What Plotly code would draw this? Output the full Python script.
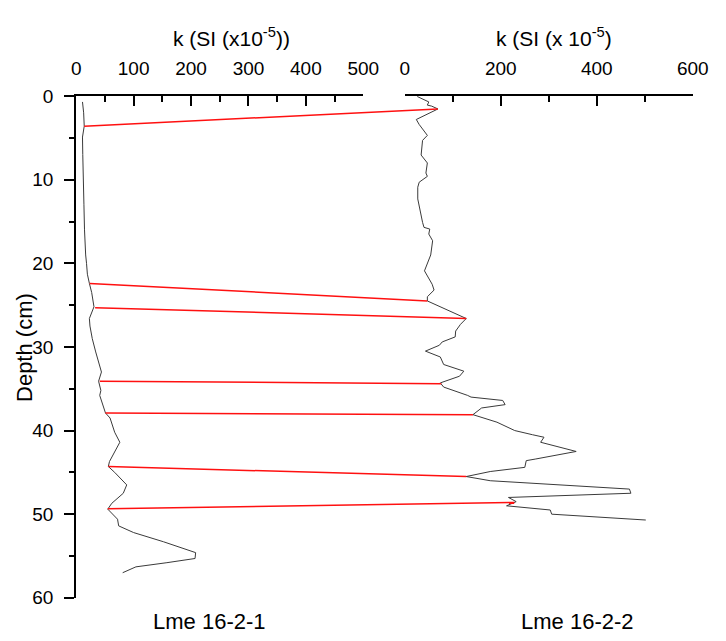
import plotly.graph_objects as go

# Core Lme 16-2-1: depth (cm) and magnetic susceptibility k (SI x10^-5)
depth_a = [0.7, 2.0, 3.6, 4.9, 7.0, 10.0, 13.0, 16.0, 17.5, 19.0, 20.0, 21.3, 22.4, 23.5,
           25.2, 26.6, 27.5, 29.0, 30.6, 31.8, 33.0, 34.1, 35.2, 35.8, 36.7, 37.9, 38.5,
           39.2, 40.2, 41.4, 42.6, 43.7, 44.3, 45.0, 46.5, 47.5, 48.7, 49.4, 50.6, 51.4,
           52.2, 53.3, 54.6, 55.3, 55.8, 56.3, 57.0]
k_a = [11, 13, 14, 11, 11.5, 12, 13.5, 14.5, 15, 16.5, 18, 19.5, 23, 27,
       31, 23, 24, 28, 34, 39, 44, 39, 43, 41, 45, 51, 59,
       62, 67, 76, 67, 58, 56, 67, 88, 82, 62, 55, 72, 74,
       100, 152, 208, 207, 158, 104, 81]

# Core Lme 16-2-2
depth_b = [0.05, 0.7, 1.08, 1.2, 1.54, 2.8, 3.4, 4.7, 5.3, 7.05, 8.0, 9.2, 9.6, 10.3,
           10.9, 12.3, 15.1, 15.7, 15.9, 16.5, 17.3, 19.0, 20.9, 21.9, 22.5, 23.2, 24.0,
           24.5, 26.6, 27.3, 28.1, 28.8, 29.4, 29.8, 30.5, 31.2, 32.1, 32.9, 33.5, 34.3,
           34.8, 35.8, 36.0, 36.4, 36.9, 37.3, 38.1, 39.0, 40.0, 40.5, 40.8, 41.4, 42.5,
           43.4, 43.6, 44.4, 44.9, 45.5, 46.0, 47.0, 47.5, 48.0, 48.5, 49.0, 49.5, 50.0,
           50.7]
k_b = [26, 50, 47, 56, 69, 24, 30, 47, 37, 34, 47, 44, 47, 30,
       27, 27, 37, 40, 52, 50, 58, 54, 41, 50, 57, 61, 47,
       47, 128, 116, 106, 105, 78, 72, 43, 74, 81, 123, 114, 74,
       81, 131, 138, 204, 209, 160, 142, 192, 229, 266, 290, 283, 357,
       273, 253, 250, 178, 128, 178, 468, 471, 216, 232, 212, 303, 306,
       502]

# Correlation tie points between the two cores
tie_depth_a = [3.6, 22.4, 25.3, 34.1, 37.9, 44.3, 49.35]
tie_k_a = [14, 23.5, 33, 41, 51, 56, 55]
tie_depth_b = [1.54, 24.5, 26.6, 34.4, 38.1, 45.5, 48.6]
tie_k_b = [69, 47, 128, 76, 142, 128, 228]

x_ticks_a = [0, 100, 200, 300, 400, 500]
x_ticks_b = [0, 200, 400, 600]
y_ticks = [0, 10, 20, 30, 40, 50, 60]

title_a = "k (SI (x10<sup>-5</sup>))"
title_b = "k (SI (x 10<sup>-5</sup>)"
label_a = "Lme 16-2-1"
label_b = "Lme 16-2-2"
y_title = "Depth (cm)"

W, H = 726, 641
FONT = "Liberation Sans, Arial, sans-serif"

dom_a = [73.3 / W, 369.0 / W]
dom_b = [411.7 / W, 708.3 / W]
dom_y = [(H - 607.7) / H, (H - 89.0) / H]
range_a = [0, 500]
range_b = [0, 600]


def to_paper(v, dom, rng):
    return dom[0] + (v - rng[0]) / (rng[1] - rng[0]) * (dom[1] - dom[0])


fig = go.Figure()
fig.add_trace(go.Scatter(x=k_a, y=depth_a, mode="lines", xaxis="x", yaxis="y",
                         line=dict(color="#3a3a3a", width=1), showlegend=False))
fig.add_trace(go.Scatter(x=k_b, y=depth_b, mode="lines", xaxis="x2", yaxis="y",
                         line=dict(color="#3a3a3a", width=1), showlegend=False))

for da, ka, db, kb in zip(tie_depth_a, tie_k_a, tie_depth_b, tie_k_b):
    fig.add_shape(type="line", xref="paper", yref="y",
                  x0=to_paper(ka, dom_a, range_a), y0=da,
                  x1=to_paper(kb, dom_b, range_b), y1=db,
                  line=dict(color="#ff1010", width=1.5))

axis_common = dict(showgrid=False, zeroline=False, showline=True, linecolor="black",
                   linewidth=2, tickcolor="black", tickwidth=2,
                   tickfont=dict(family=FONT, size=19, color="black"))

fig.update_layout(
    width=W, height=H,
    margin=dict(l=0, r=0, t=0, b=0),
    paper_bgcolor="white", plot_bgcolor="white",
    xaxis=dict(domain=dom_a, range=range_a, anchor="y", side="top",
               tickmode="array", tickvals=x_ticks_a, ticks="inside", ticklen=10,
               minor=dict(dtick=50, ticks="inside", ticklen=6, tickwidth=2, tickcolor="black"),
               ticklabelstandoff=11, **axis_common),
    xaxis2=dict(domain=dom_b, range=range_b, anchor="y", side="top",
                tickmode="array", tickvals=x_ticks_b, ticks="inside", ticklen=10,
                minor=dict(dtick=100, ticks="inside", ticklen=6, tickwidth=2, tickcolor="black"),
                ticklabelstandoff=11, **axis_common),
    yaxis=dict(domain=dom_y, range=[60, 0], anchor="x", side="left",
               tickmode="array", tickvals=y_ticks, ticks="outside", ticklen=10,
               minor=dict(dtick=5, ticks="outside", ticklen=5, tickwidth=2, tickcolor="black"),
               ticklabelstandoff=7, **axis_common),
    annotations=[
        dict(text=title_a, x=233 / W, y=(H - 28) / H, xref="paper", yref="paper",
             showarrow=False, xanchor="center", yanchor="middle",
             font=dict(family=FONT, size=21, color="black")),
        dict(text=title_b, x=565 / W, y=(H - 28) / H, xref="paper", yref="paper",
             showarrow=False, xanchor="center", yanchor="middle",
             font=dict(family=FONT, size=21, color="black")),
        dict(text=y_title, x=20 / W, y=(H - 349) / H, xref="paper", yref="paper",
             showarrow=False, textangle=-90, xanchor="center", yanchor="middle",
             font=dict(family=FONT, size=22, color="black")),
        dict(text=label_a, x=211 / W, y=(H - 632) / H, xref="paper", yref="paper",
             showarrow=False, xanchor="center", yanchor="middle",
             font=dict(family=FONT, size=22, color="black")),
        dict(text=label_b, x=590 / W, y=(H - 632) / H, xref="paper", yref="paper",
             showarrow=False, xanchor="center", yanchor="middle",
             font=dict(family=FONT, size=22, color="black")),
    ],
)

fig.write_html("out.html")
